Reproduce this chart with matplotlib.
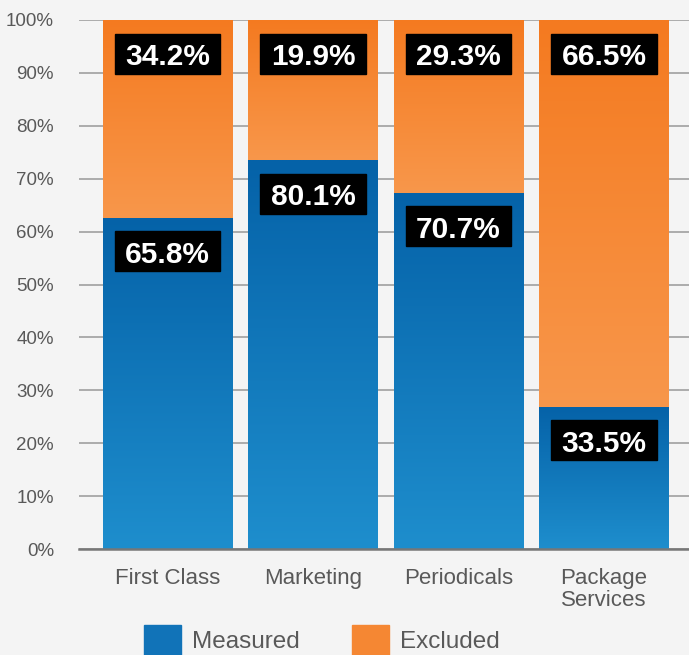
import numpy as np
import matplotlib
matplotlib.use("Agg")
import matplotlib.pyplot as plt
from matplotlib.patches import Rectangle, Patch
from matplotlib.colors import to_rgb

categories = ["First Class", "Marketing", "Periodicals", "Package\nServices"]
measured_height = [62.6, 73.5, 67.3, 26.9]          # bar heights as drawn
measured_labels = ["65.8%", "80.1%", "70.7%", "33.5%"]
excluded_labels = ["34.2%", "19.9%", "29.3%", "66.5%"]

BLUE_TOP, BLUE_BOT = "#0562a8", "#1e8ecd"
ORANGE_TOP, ORANGE_BOT = "#f47a20", "#f8974b"
BG = "#f4f4f4"
TXT = "#595959"

plt.rcParams["font.family"] = ["Liberation Sans", "DejaVu Sans"]

fig = plt.figure(figsize=(6.89, 6.55), dpi=100, facecolor=BG)
ax = fig.add_axes([79 / 689, 1 - 549 / 655, 1 - 79 / 689, (549 - 20) / 655])
ax.set_facecolor(BG)

x = np.arange(len(categories))
w = 0.887
excluded_height = [100 - m for m in measured_height]


def gradient(c_top, c_bot, n=256):
    t = np.linspace(0, 1, n)[:, None]
    a, b = np.array(to_rgb(c_top)), np.array(to_rgb(c_bot))
    return (a * (1 - t) + b * t)[:, None, :]


bars_m = ax.bar(x, measured_height, w, color="none", zorder=3)
bars_e = ax.bar(x, excluded_height, w, bottom=measured_height, color="none", zorder=3)

for bars, top, bot in [(bars_m, BLUE_TOP, BLUE_BOT), (bars_e, ORANGE_TOP, ORANGE_BOT)]:
    for p in bars:
        x0, y0 = p.get_x(), p.get_y()
        ax.imshow(gradient(top, bot), extent=[x0, x0 + p.get_width(), y0, y0 + p.get_height()],
                  aspect="auto", interpolation="bilinear", zorder=3)

# label boxes
px = 529 / 100.0  # pixels per data unit (y)
box_w, box_h = 0.722, 40 / px
offset = 13.5 / px


def label(xc, seg_top, txt):
    yb = seg_top - offset - box_h
    ax.add_patch(Rectangle((xc - box_w / 2, yb), box_w, box_h, color="black", zorder=4))
    ax.text(xc, yb + box_h / 2 - 11.5 / px, txt, color="white", fontsize=21.5, fontweight="bold",
            ha="center", va="baseline", zorder=5)


for i in range(len(categories)):
    label(x[i], 100, excluded_labels[i])
    label(x[i], measured_height[i], measured_labels[i])

ax.set_xlim(-0.608, 3.584)
ax.set_ylim(0, 100)
ax.set_yticks(np.arange(0, 101, 10))
ax.set_yticklabels([f"{v}%" for v in range(0, 101, 10)], fontsize=13.5)
ax.set_xticks(x)
ax.set_xticklabels(categories, fontsize=16, linespacing=1.05)
ax.tick_params(axis="both", length=0, labelcolor=TXT)
ax.tick_params(axis="y", pad=18)
ax.tick_params(axis="x", pad=14)

ax.grid(axis="y", color="#a6a6a6", lw=1.3, zorder=0)
ax.set_axisbelow(True)
for s in ["top", "right", "left"]:
    ax.spines[s].set_visible(False)
ax.spines["bottom"].set_color("#777777")
ax.spines["bottom"].set_linewidth(1.8)
ax.spines["bottom"].set_zorder(6)

handles = [Patch(color="#1173b8", label="Measured"), Patch(color="#f58733", label="Excluded")]
fig.legend(handles=handles, loc="center left", bbox_to_anchor=(144 / 689, 1 - 640 / 655),
           ncol=2, frameon=False, fontsize=17.5, labelcolor=TXT, borderpad=0, borderaxespad=0,
           handlelength=1.51, handleheight=1.51, handletextpad=0.45, columnspacing=2.18)

fig.savefig("out.png", dpi=100, facecolor=BG)
